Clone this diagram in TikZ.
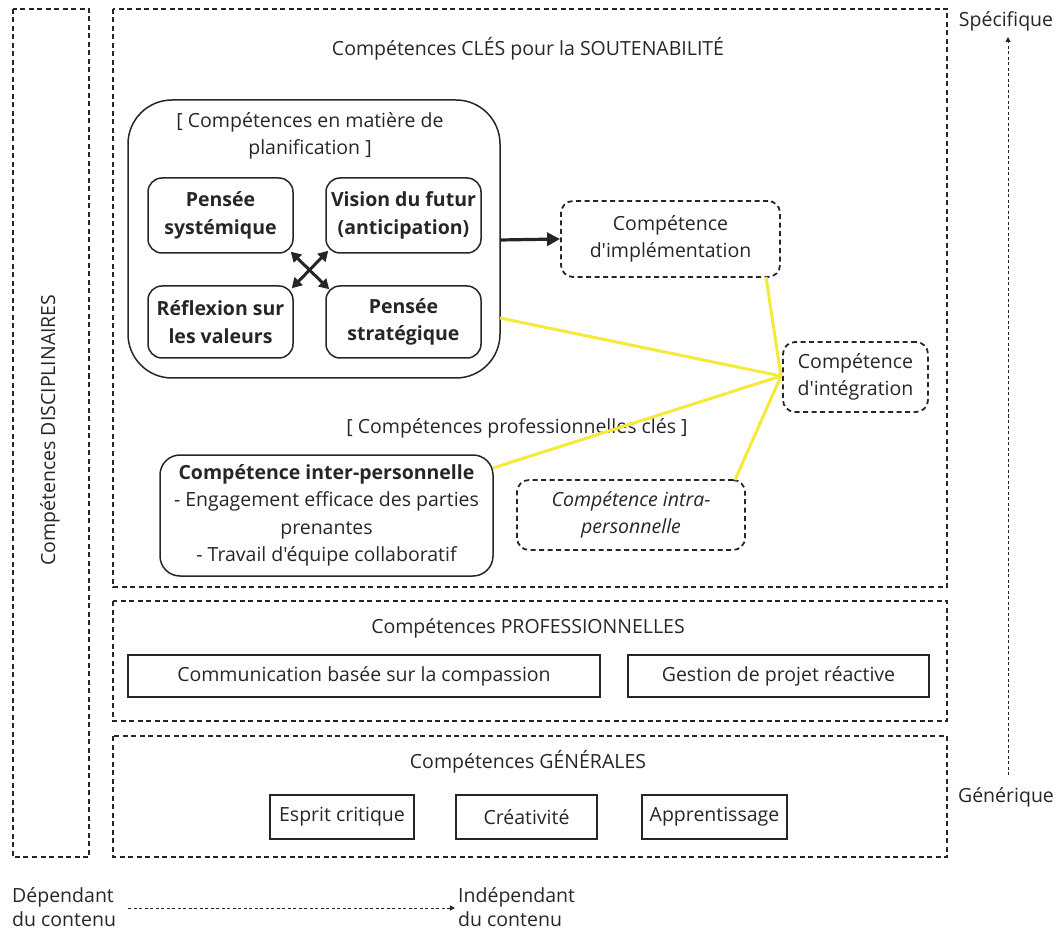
\documentclass[tikz,border=0pt]{standalone}
\usepackage{fontspec}
\setmainfont{Open Sans}[Ligatures=TeXOff]
\usetikzlibrary{arrows.meta,calc}
\definecolor{ink}{HTML}{262626}
\definecolor{yel}{HTML}{F5EA3A}
\tikzset{
  dbox/.style={draw=ink, line width=1.8pt, dash pattern=on 5pt off 3.5pt},
  rbox/.style={draw=ink, line width=1.5pt, rounded corners=14pt},
  sbox/.style={draw=ink, line width=1.5pt},
  txt/.style={text=ink, font=\fontsize{19.5}{27.5}\selectfont, align=center, inner sep=0pt},
  btxt/.style={txt, font=\fontsize{19.5}{27.5}\selectfont\bfseries},
  yline/.style={draw=yel, line width=3pt},
  darr/.style={draw=ink, line width=3.2pt, -{Triangle[length=13pt,width=13pt]}},
  dda/.style={draw=ink, line width=3pt, {Triangle[length=10pt,width=11pt]}-{Triangle[length=10pt,width=11pt]}},
  axarr/.style={draw=ink, line width=0.9pt, dash pattern=on 3pt off 2.5pt, -{Triangle[length=5pt,width=5pt]}},
}
\begin{document}
\begin{tikzpicture}[x=1pt,y=-1pt]
\useasboundingbox (0,0) rectangle (1061,933);
% outer dashed boxes
\draw[dbox] (13,9) rectangle (89,857);
\draw[dbox] (113,9) rectangle (947,587);
\draw[dbox] (113,601) rectangle (947,721);
\draw[dbox] (113,736) rectangle (947,857);
\node[txt, rotate=90] (disc) at (50,430) {Compétences DISCIPLINAIRES};
\node[txt] (cles) at (528,49) {Compétences CLÉS pour la SOUTENABILITÉ};
% planning box
\draw[draw=ink, line width=1.5pt, rounded corners=44pt] (128,100) rectangle (500,378);
\coordinate (planR) at (500,240);
\coordinate (planY) at (500,318);
\node[txt] (plantitle) at (310,136) {[ Compétences en matière de\\planification ]};
\node[btxt, rbox, minimum width=145pt, minimum height=75pt] (sys) at (220.5,215.5) {Pensée\\systémique};
\node[btxt, rbox, minimum width=155pt, minimum height=75pt] (vis) at (403.5,215.5) {Vision du futur\\(anticipation)};
\node[btxt, rbox, minimum width=145pt, minimum height=72pt] (ref) at (220.5,322) {Réflexion sur\\les valeurs};
\node[btxt, rbox, minimum width=155pt, minimum height=72pt] (strat) at (403.5,322) {Pensée\\stratégique};
\draw[dda] ($(sys.south east)+(-3,-2)$) -- ($(strat.north west)+(4,4)$);
\draw[dda] ($(vis.south west)+(3,-3)$) -- ($(ref.north east)+(-2,3)$);
% implementation and integration
\node[txt, dbox, rounded corners=12pt, minimum width=219pt, minimum height=76pt] (impl) at (670.5,239) {Compétence\\d'implémentation};
\node[txt, dbox, rounded corners=12pt, minimum width=145pt, minimum height=70pt] (integ) at (855.5,377) {Compétence\\d'intégration};
\draw[darr] (planR) -- (impl.west);
\coordinate (hub) at (781,376);
\node[txt] (proflabel) at (517,428) {[ Compétences professionnelles clés ]};
\node[txt, rbox, rounded corners=20pt, minimum width=333pt, minimum height=121pt] (inter) at (326.5,515.5) {\textbf{Compétence inter-personnelle}\\- Engagement efficace des parties\\prenantes\\- Travail d'équipe collaboratif};
\node[txt, dbox, rounded corners=12pt, minimum width=228pt, minimum height=70pt] (intra) at (631,515) {\itshape Compétence intra-\\\itshape personnelle};
\coordinate (implY) at (766,277);
\coordinate (interY) at (493,468);
\coordinate (intraY) at (735,480);
\draw[yline] (planY) -- (hub);
\draw[yline] (implY) -- (hub);
\draw[yline] (interY) -- (hub);
\draw[yline] (intraY) -- (hub);
% professional
\node[txt] (proft) at (528,628) {Compétences PROFESSIONNELLES};
\node[txt, sbox, minimum width=472pt, minimum height=42pt] (comm) at (364,676) {Communication basée sur la compassion};
\node[txt, sbox, minimum width=301pt, minimum height=42pt] (gest) at (778.5,676) {Gestion de projet réactive};
% general
\node[txt] (gent) at (528,762) {Compétences GÉNÉRALES};
\node[txt, sbox, minimum width=144pt, minimum height=44pt] (esp) at (342,817) {Esprit critique};
\node[txt, sbox, minimum width=141pt, minimum height=44pt] (crea) at (526.5,817) {Créativité};
\node[txt, sbox, minimum width=145pt, minimum height=44pt] (app) at (714.5,817) {Apprentissage};
% axes
\node[txt] (spec) at (1006,21) {Spécifique};
\node[txt] (gen) at (1006,797) {Générique};
\coordinate (genTail) at (1008,775);
\coordinate (specTip) at (1008,37);
\draw[axarr] (genTail) -- (specTip);
\node[txt, font=\fontsize{19.5}{24.5}\selectfont, anchor=west, align=left] (dep) at (12,907) {Dépendant\\du contenu};
\node[txt, font=\fontsize{19.5}{24.5}\selectfont, anchor=west, align=left] (indep) at (458,907) {Indépendant\\du contenu};
\coordinate (depE) at (128,908);
\coordinate (indW) at (455,908);
\draw[axarr] (depE) -- (indW);
\end{tikzpicture}
\end{document}
